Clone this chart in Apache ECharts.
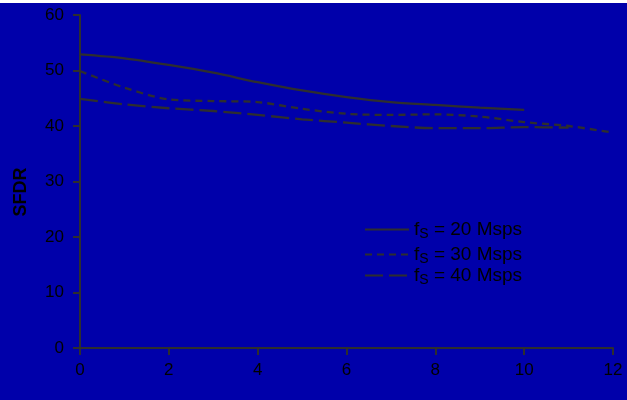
<!DOCTYPE html>
<html>
<head>
<meta charset="utf-8">
<script src="https://cdn.jsdelivr.net/npm/echarts@6/dist/echarts.min.js"></script>
<style>
html,body{margin:0;padding:0;background:#ffffff;}
#c{position:absolute;left:0;top:3px;width:627px;height:397px;}
</style>
</head>
<body>
<div id="c"></div>
<script>
// Data
const seriesNames = ['20 Msps', '30 Msps', '40 Msps'];
const x20 = [0, 1, 2, 3, 4, 5, 6, 7, 8, 9, 10];
const y20 = [52.9, 52.2, 51.0, 49.6, 47.9, 46.4, 45.2, 44.3, 43.8, 43.3, 42.9];
const x30 = [0, 1, 2, 3, 4, 5, 6, 7, 8, 9, 10, 11, 12];
const y30 = [49.9, 46.9, 44.8, 44.5, 44.3, 43.1, 42.2, 42.0, 42.1, 41.7, 40.7, 40.0, 38.8];
const x40 = [0, 1, 2, 3, 4, 5, 6, 7, 8, 9, 10, 11];
const y40 = [44.9, 43.9, 43.2, 42.7, 42.0, 41.2, 40.6, 40.0, 39.6, 39.6, 39.8, 39.7];
const xTicks = [0, 2, 4, 6, 8, 10, 12];
const yTicks = [0, 10, 20, 30, 40, 50, 60];
const yAxisTitle = 'SFDR';

const lineColor = '#2e2e2e';
const font = '"Liberation Sans", Arial, Helvetica, sans-serif';
const zip = (xs, ys) => xs.map((x, i) => [x, ys[i]]);

const chart = echarts.init(document.getElementById('c'), null, {renderer: 'canvas'});
const richStyle = {
  f: {fontSize: 19, fontFamily: font, color: '#000'},
  s: {fontSize: 14, fontFamily: font, color: '#000', padding: [10, 0, 0, 0]},
  n: {fontSize: 19, fontFamily: font, color: '#000'}
};
const legendTops = [217, 242, 263];
const dashes = ['solid', [7, 5], [18, 6]];
const datas = [zip(x20, y20), zip(x30, y30), zip(x40, y40)];

chart.setOption({
  backgroundColor: '#0000aa',
  animation: false,
  grid: {left: 80, right: 14, top: 12, bottom: 52, containLabel: false},
  xAxis: {
    type: 'value', min: xTicks[0], max: xTicks[xTicks.length - 1], interval: 2,
    axisLine: {show: true, lineStyle: {color: lineColor, width: 2}},
    axisTick: {show: true, inside: false, length: 7, lineStyle: {color: lineColor, width: 2}},
    axisLabel: {color: '#000', fontSize: 17, fontFamily: font, margin: 14},
    splitLine: {show: false}
  },
  yAxis: {
    type: 'value', min: yTicks[0], max: yTicks[yTicks.length - 1], interval: 10,
    axisLine: {show: true, lineStyle: {color: lineColor, width: 2}},
    axisTick: {show: true, inside: false, length: 7, lineStyle: {color: lineColor, width: 2}},
    axisLabel: {color: '#000', fontSize: 17, fontFamily: font, margin: 16},
    splitLine: {show: false}
  },
  legend: seriesNames.map((n, i) => ({
    data: [n], orient: 'vertical', left: 364, top: legendTops[i],
    itemWidth: 44, itemHeight: 12, padding: 0,
    itemStyle: {opacity: 0},
    formatter: name => '{f|f}{s|S}{n| = ' + name + '}',
    textStyle: {rich: richStyle}
  })),
  graphic: [{
    type: 'text', x: 21, y: 189, rotation: Math.PI / 2,
    style: {text: yAxisTitle, fill: '#000', font: 'bold 18px ' + font, align: 'center', verticalAlign: 'middle'}
  }],
  series: seriesNames.map((n, i) => ({
    name: n, type: 'line', data: datas[i], smooth: 0.3, symbol: 'none', showSymbol: false,
    lineStyle: {color: lineColor, width: 2.3, type: dashes[i]},
    itemStyle: {color: lineColor}
  }))
});
</script>
</body>
</html>
